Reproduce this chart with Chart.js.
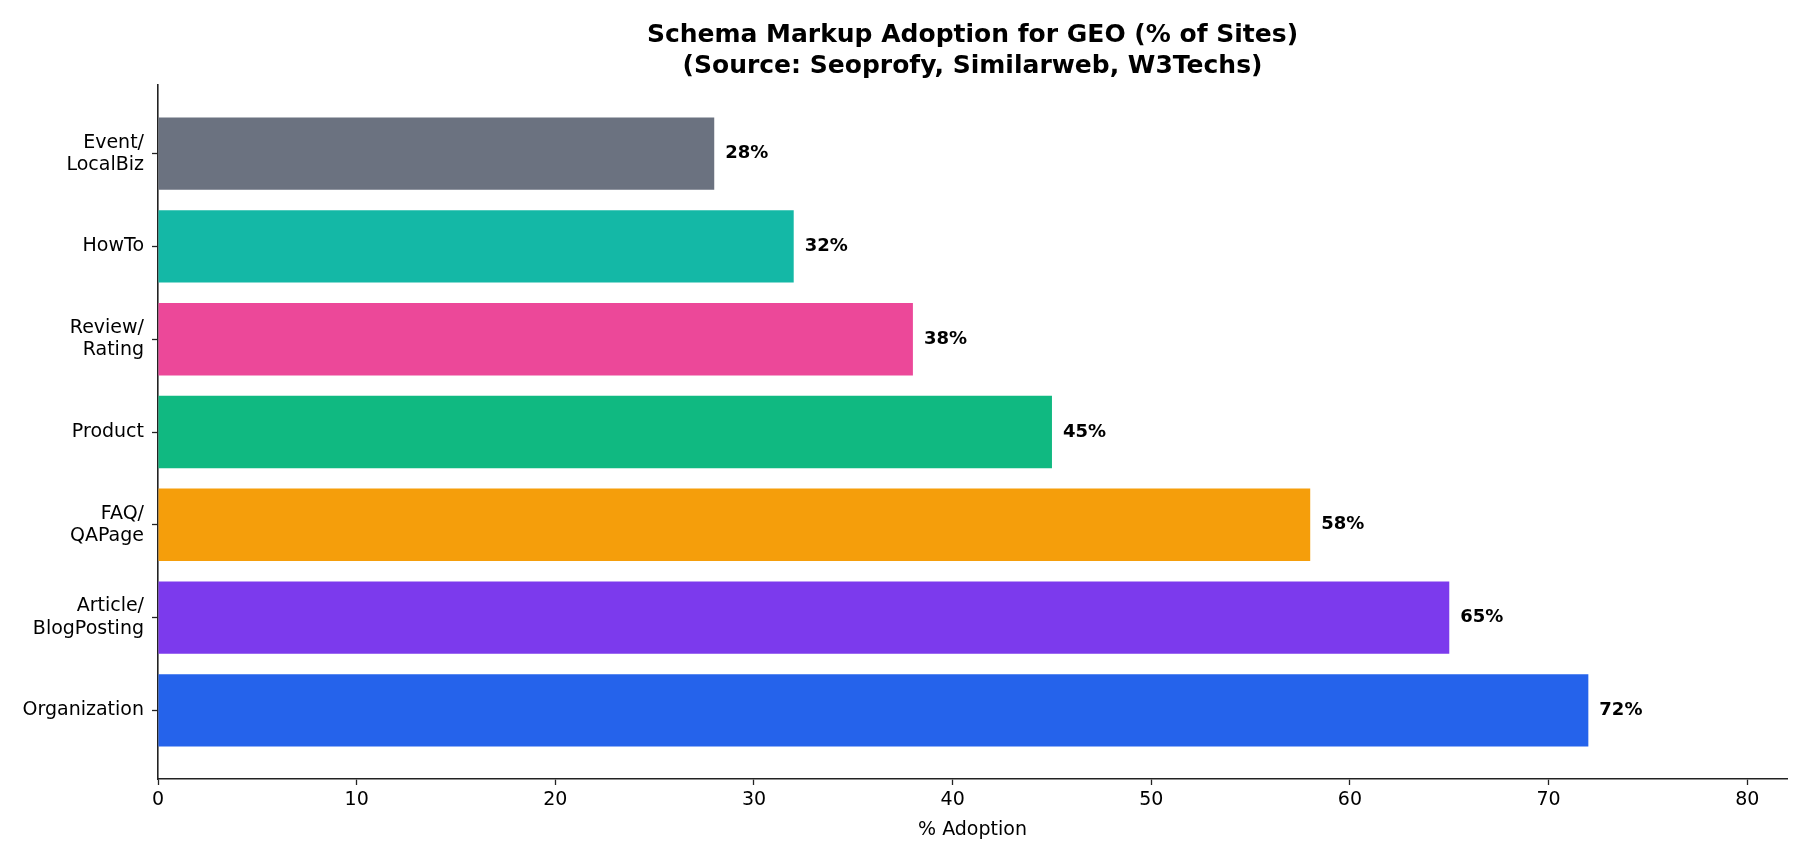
<!DOCTYPE html>
<html>
<head>
<meta charset="utf-8">
<script src="https://cdn.jsdelivr.net/npm/chart.js@4/dist/chart.umd.min.js"></script>
<style>
  body { margin: 0; background: #fff; }
  #wrap { width: 1808px; height: 862px; }
</style>
</head>
<body>
<div id="wrap"><canvas id="mychart" width="1808" height="862"></canvas></div>
<script>
// bottom to top, as in the picture
const categories = [
  ['Organization'],
  ['Article/', 'BlogPosting'],
  ['FAQ/', 'QAPage'],
  ['Product'],
  ['Review/', 'Rating'],
  ['HowTo'],
  ['Event/', 'LocalBiz']
]
const adoption = [72, 65, 58, 45, 38, 32, 28]
const barColors = ['#2563eb', '#7c3aed', '#f59e0b', '#10b981', '#ec4899', '#14b8a6', '#6b7280']
const xTicks = [0, 10, 20, 30, 40, 50, 60, 70, 80]

const FONT = "'DejaVu Sans', sans-serif"
const AXIS = '#222'

const valueLabels = {
  id: 'valueLabels',
  afterDatasetsDraw(chart) {
    const ctx = chart.ctx
    const meta = chart.getDatasetMeta(0)
    ctx.save()
    ctx.font = 'bold 18px ' + FONT
    ctx.fillStyle = '#000'
    ctx.textAlign = 'left'
    ctx.textBaseline = 'middle'
    meta.data.forEach((bar, i) => {
      ctx.fillText(adoption[i] + '%', bar.x + 11, bar.y)
    })
    ctx.restore()
  }
}

document.addEventListener('DOMContentLoaded', () => {
  const data = {
    datasets: [{
      label: '% Adoption',
      data: adoption.map((v, i) => ({ x: v, y: i })),
      backgroundColor: barColors,
      borderWidth: 0,
      barPercentage: 0.78,
      categoryPercentage: 1
    }]
  }

  const config = {
    type: 'bar',
    data,
    options: {
      indexAxis: 'y',
      responsive: false,
      devicePixelRatio: 1,
      animation: false,
      layout: { padding: { left: 0, right: 21, top: 0, bottom: 0 } },
      plugins: {
        legend: { display: false },
        tooltip: { enabled: false },
        title: {
          display: true,
          fullSize: false,
          text: ['Schema Markup Adoption for GEO (% of Sites)', '(Source: Seoprofy, Similarweb, W3Techs)'],
          color: '#000',
          font: { family: FONT, size: 25, weight: 'bold', lineHeight: 1.24 },
          padding: { top: 20, bottom: 3 }
        }
      },
      scales: {
        x: {
          type: 'linear',
          min: 0,
          max: 82,
          afterBuildTicks: axis => { axis.ticks = xTicks.map(v => ({ value: v })) },
          afterFit: axis => { axis.height = 83 },
          border: { display: true, color: AXIS, width: 1.6 },
          grid: { display: true, drawOnChartArea: false, drawTicks: true, tickLength: 6, tickWidth: 1.3, tickColor: AXIS },
          ticks: { color: '#000', font: { family: FONT, size: 19 }, padding: 4, maxRotation: 0 },
          title: {
            display: true,
            text: '% Adoption',
            color: '#000',
            font: { family: FONT, size: 19 },
            padding: { top: 0, bottom: 21 }
          }
        },
        y: {
          type: 'linear',
          offset: false,
          min: -0.74,
          max: 6.74,
          afterBuildTicks: axis => { axis.ticks = categories.map((c, i) => ({ value: i })) },
          afterFit: axis => { axis.width = 158 },
          border: { display: true, color: AXIS, width: 1.6 },
          grid: { display: true, offset: false, drawOnChartArea: false, drawTicks: true, tickLength: 6, tickWidth: 1.3, tickColor: AXIS },
          ticks: {
            color: '#000',
            font: { family: FONT, size: 19, lineHeight: 1.16 },
            padding: 8,
            crossAlign: 'near',
            autoSkip: false,
            callback: v => categories[v]
          }
        }
      }
    },
    plugins: [valueLabels]
  }

  new Chart(document.querySelector('#mychart'), config)
})
</script>
</body>
</html>
